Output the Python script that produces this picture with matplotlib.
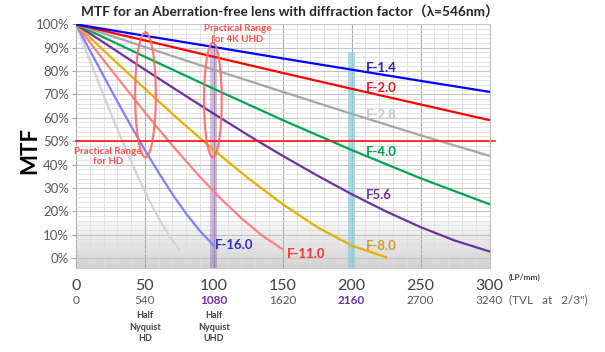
import matplotlib
matplotlib.use("Agg")
import matplotlib.pyplot as plt
import matplotlib.transforms as mtransforms
from matplotlib.colors import LinearSegmentedColormap
from matplotlib.patches import Ellipse
import numpy as np

plt.rcParams["font.family"] = ["Lato", "Noto Sans CJK JP", "DejaVu Sans"]

# MTF curves (lp/mm -> MTF %)
x_f14 = [0, 50, 100, 150, 200, 250, 300]
mtf_f14 = [100, 95.1, 90.3, 85.4, 80.6, 75.8, 71.1]
x_f20 = [0, 50, 100, 150, 200, 250, 300]
mtf_f20 = [100, 93.1, 86.1, 79.2, 72.4, 65.7, 59.0]
x_f28 = [0, 50, 100, 150, 200, 250, 300]
mtf_f28 = [100, 90.3, 80.6, 71.1, 61.7, 52.5, 43.7]
x_f40 = [0, 50, 100, 150, 200, 250, 300]
mtf_f40 = [100, 86.1, 72.4, 59.0, 46.2, 34.1, 23.0]
x_f56 = [0, 25, 50, 75, 100, 125, 150, 175, 200, 225, 250, 275, 300]
mtf_f56 = [100, 90.3, 80.6, 71.1, 61.7, 52.5, 43.7, 35.3, 27.3, 19.9, 13.2, 7.4, 2.8]
x_f80 = [0, 25, 50, 75, 100, 125, 150, 175, 200, 225]
mtf_f80 = [100, 86.1, 72.4, 59.0, 46.2, 34.1, 23.0, 13.2, 5.3, 0.3]
x_f110 = [0, 15, 30, 45, 60, 75, 90, 105, 120, 135, 150]
mtf_f110 = [100, 88.5, 77.2, 66.0, 55.1, 44.7, 34.7, 25.4, 17.0, 9.6, 3.7]
x_f160 = [0, 10, 20, 30, 40, 50, 60, 70, 80, 90, 100]
mtf_f160 = [100, 88.9, 77.9, 67.0, 56.4, 46.2, 36.5, 27.3, 18.9, 11.5, 5.3]
x_f220 = [0, 7.5, 15, 22.5, 30, 37.5, 45, 52.5, 60, 67.5, 75]
mtf_f220 = [100, 88.5, 77.2, 66.0, 55.1, 44.7, 34.7, 25.4, 17.0, 9.6, 3.7]

lp_ticks = [0, 50, 100, 150, 200, 250, 300]
tvl_labels = ["0", "540", "1080", "1620", "2160", "2700", "3240"]

fig = plt.figure(figsize=(6.05, 3.52), dpi=100)
ax = fig.add_axes([0.1256, 0.2386, 0.6835, 0.6923])
ax.set_xlim(0, 300)
ax.set_ylim(-4.3, 100)

# shaded band near the bottom (light at top, darker toward the floor)
shade = LinearSegmentedColormap.from_list("shade", ["#F7F7F7", "#E6E6E6", "#D2D2D2"])
grad = np.linspace(0, 1, 100).reshape(-1, 1)
ax.imshow(grad, extent=[0, 300, -4.3, 15], aspect="auto", cmap=shade,
          origin="upper", zorder=0)

ax.set_xticks(lp_ticks)
ax.set_xticks(np.arange(0, 301, 10), minor=True)
ax.set_yticks(np.arange(0, 101, 10))
ax.set_yticks(np.arange(0, 101, 2), minor=True)
ax.set_yticklabels([f"{v}%" for v in range(0, 101, 10)])
ax.set_xticklabels([str(v) for v in lp_ticks])
ax.set_axisbelow(True)
ax.grid(which="minor", color="#DEDEDE", lw=0.6)
ax.grid(which="major", axis="y", color="#C4C4C4", lw=0.8)
ax.grid(which="major", axis="x", color="#A8A8A8", lw=0.8)
ax.tick_params(axis="y", which="major", length=3, color="#A0A0A0",
               labelsize=9.5, labelcolor="#595959", pad=2)
ax.tick_params(axis="y", which="minor", length=0)
ax.tick_params(axis="x", which="both", length=0, labelsize=11.5,
               labelcolor="#404040", pad=8)
for s in ["top", "left"]:
    ax.spines[s].set_visible(False)
ax.spines["right"].set_color("#BFBFBF")
ax.spines["bottom"].set_color("#C8C8C8")

# highlight bands
ax.fill_between([97.5, 102.5], -4.3, 91, color="#7030A0", alpha=0.3, lw=0, zorder=1)
ax.fill_between([197.5, 202.5], -4.3, 88, color="#92CDDC", alpha=0.75, lw=0, zorder=1)

lw = 1.6
ax.plot(x_f220, mtf_f220, color="#D3D3D3", lw=lw, zorder=2)
ax.plot(x_f160, mtf_f160, color="#7F7FFF", lw=lw, zorder=2)
ax.plot(x_f110, mtf_f110, color="#FF8080", lw=lw, zorder=2)
ax.plot(x_f80, mtf_f80, color="#E8AE00", lw=lw, zorder=2)
ax.plot(x_f56, mtf_f56, color="#7030A0", lw=lw, zorder=2)
ax.plot(x_f40, mtf_f40, color="#00A550", lw=lw, zorder=2)
ax.plot(x_f28, mtf_f28, color="#A6A6A6", lw=lw, zorder=2)
ax.plot(x_f20, mtf_f20, color="#FF0000", lw=lw, zorder=2)
ax.plot(x_f14, mtf_f14, color="#0000FF", lw=lw, zorder=2)

# 50% line
ax.plot([0, 304], [50, 50], color="#FF1010", lw=1.2, clip_on=False, zorder=2)

# curve labels
lab = dict(fontsize=9.5, fontweight="bold", ha="left", va="center", zorder=4)
ax.text(210, 81.2, "F-1.4", color="#2020C0", **lab)
ax.text(210, 72.7, "F-2.0", color="#E02020", **lab)
ax.text(210, 61.2, "F-2.8", color="#C8C8C8", **lab)
ax.text(210, 45.4, "F-4.0", color="#00A050", **lab)
ax.text(210, 27, "F5.6", color="#7030A0", **lab)
ax.text(210, 5.1, "F-8.0", color="#C9A030", **lab)
ax.text(153, 1.7, "F-11.0", color="#FF3030", **lab)
ax.text(101, 5.6, "F-16.0", color="#3030C8", **lab)

# practical range ellipses
ax.add_patch(Ellipse((50.4, 69.8), 15, 53.5, fill=False, ec="#FF6B6B", lw=1.6,
                     alpha=0.9, zorder=3))
ax.add_patch(Ellipse((99.3, 67.6), 12.8, 49, fill=False, ec="#FF6B6B", lw=1.6,
                     alpha=0.9, zorder=3))
note = dict(fontsize=7, fontweight="bold", color="#FF5050", ha="center",
            va="center", linespacing=1.2, zorder=4)
ax.text(117, 95.8, "Practical Range\nfor 4K UHD", **note)
ax.text(23, 43.3, "Practical Range\nfor HD", **note)

fig.text(30 / 605, 1 - 150 / 352, "MTF", rotation=90, ha="center", va="center",
         fontsize=16, fontweight="bold", color="black")
fig.text(290 / 605, 1 - 12 / 352, "MTF for an Aberration-free lens with diffraction factor（λ=546nm）",
         ha="center", va="center", fontsize=9.8, fontweight="bold", color="#262626")

# second row of x labels (TVL) and notes
tr = mtransforms.blended_transform_factory(ax.transData, fig.transFigure)
for v, t in zip(lp_ticks, tvl_labels):
    purple = t in ("1080", "2160")
    ax.text(v, 1 - 300 / 352, t, transform=tr, ha="center", va="center",
            fontsize=8.5, color="#7030A0" if purple else "#595959",
            fontweight="bold" if purple else "normal")
ax.text(314, 1 - 300 / 352, "(TVL   at   2/3\")", transform=tr, ha="left",
        va="center", fontsize=8.5, color="#595959")
ax.text(314, 1 - 277 / 352, "(LP/mm)", transform=tr, ha="left", va="center",
        fontsize=6, fontweight="bold", color="#404040")
for v, t in [(50, "Half\nNyquist\nHD"), (100, "Half\nNyquist\nUHD")]:
    ax.text(v, 1 - 327 / 352, t, transform=tr, ha="center", va="center",
            fontsize=6.5, fontweight="bold", color="#404040", linespacing=1.35)

fig.savefig("out.png", dpi=100)
